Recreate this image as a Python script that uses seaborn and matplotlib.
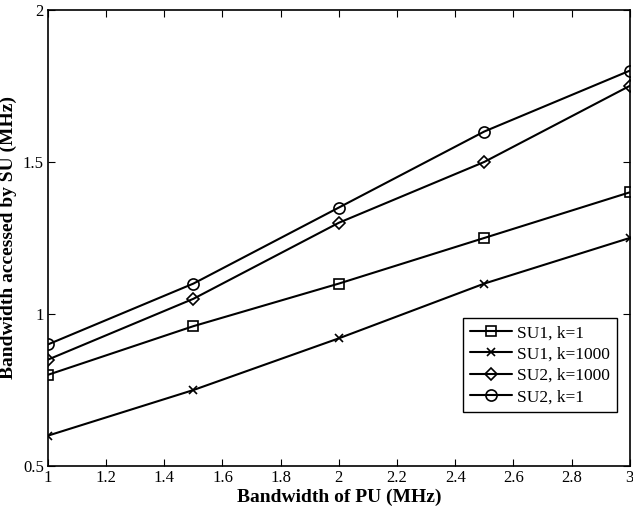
import matplotlib
matplotlib.use("Agg")
import matplotlib.pyplot as plt
import seaborn as sns
import pandas as pd

pu_bw = [1.0, 1.5, 2.0, 2.5, 3.0]
su1_k1 = [0.80, 0.96, 1.10, 1.25, 1.40]
su1_k1000 = [0.60, 0.75, 0.92, 1.10, 1.25]
su2_k1000 = [0.85, 1.05, 1.30, 1.50, 1.75]
su2_k1 = [0.90, 1.10, 1.35, 1.60, 1.80]
series_names = ["SU1, k=1", "SU1, k=1000", "SU2, k=1000", "SU2, k=1"]
series_vals = [su1_k1, su1_k1000, su2_k1000, su2_k1]
markers = ["s", "x", "D", "o"]

sns.set_style("ticks")
plt.rcParams["font.family"] = ["Liberation Serif", "DejaVu Serif"]
plt.rcParams["text.color"] = "black"
plt.rcParams["axes.labelcolor"] = "black"
plt.rcParams["xtick.color"] = "black"
plt.rcParams["ytick.color"] = "black"

fig = plt.figure(figsize=(6.33, 5.19), dpi=100)
ax = fig.add_axes([0.0758, 0.102, 0.919, 0.879])

sizes = {"s": 7, "x": 6, "D": 6.5, "o": 8}
for name, vals, m in zip(series_names, series_vals, markers):
    d = pd.DataFrame({"pu": pu_bw, "su": vals})
    kw = dict(markerfacecolor="none", markeredgecolor="black", markeredgewidth=1.2)
    if m == "x":
        kw = dict(markeredgecolor="black", markeredgewidth=1.2)
    sns.lineplot(data=d, x="pu", y="su", color="black", marker=m,
                 markersize=sizes[m], linewidth=1.5, label=name,
                 ax=ax, **kw)

ax.set_xlim(1, 3)
ax.set_ylim(0.5, 2)
xt = [1, 1.2, 1.4, 1.6, 1.8, 2, 2.2, 2.4, 2.6, 2.8, 3]
ax.set_xticks(xt)
ax.set_xticklabels(["1", "1.2", "1.4", "1.6", "1.8", "2", "2.2", "2.4", "2.6", "2.8", "3"])
ax.set_yticks([0.5, 1, 1.5, 2])
ax.set_yticklabels(["0.5", "1", "1.5", "2"])
ax.tick_params(direction="in", top=True, right=True, labelsize=12, length=5, width=0.8, pad=3,
               colors="black")
for s in ax.spines.values():
    s.set_visible(True)
    s.set_linewidth(1.2)
    s.set_color("black")
ax.set_xlabel("Bandwidth of PU (MHz)", fontsize=14, fontweight="bold", labelpad=2, color="black")
ax.set_ylabel("Bandwidth accessed by SU (MHz)", fontsize=14, fontweight="bold", labelpad=4, color="black")

leg = ax.legend(loc="lower right", bbox_to_anchor=(0.978, 0.118), borderaxespad=0, fontsize=12.5,
                frameon=True, fancybox=False, edgecolor="black", framealpha=1,
                handlelength=2.4, borderpad=0.4, labelspacing=0.3, handletextpad=0.3)
leg.get_frame().set_linewidth(1.0)
for t in leg.get_texts():
    t.set_color("black")

fig.savefig("out.png", dpi=100)
